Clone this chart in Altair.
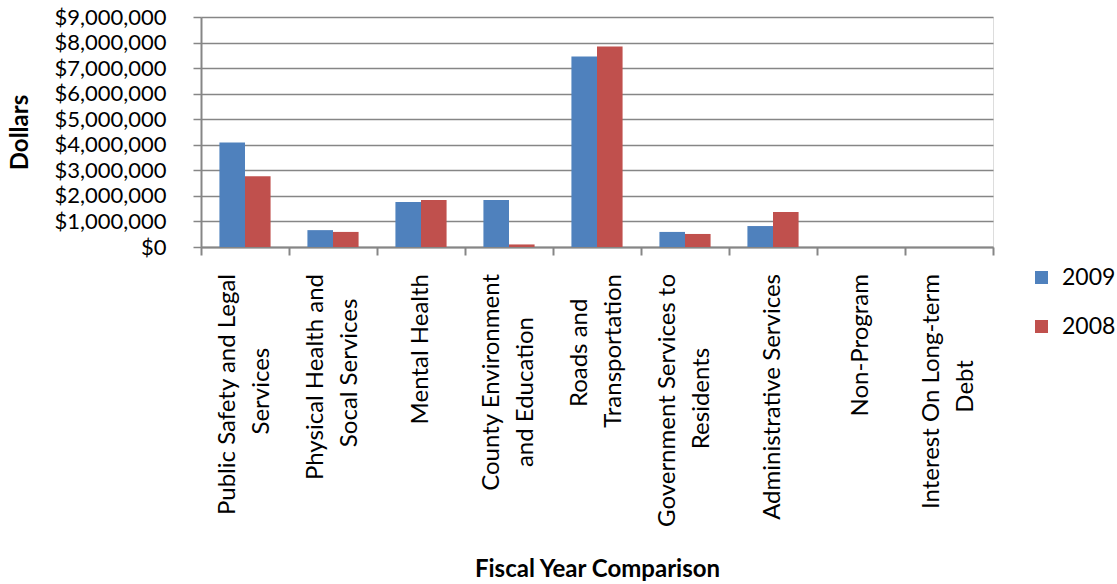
import altair as alt
import pandas as pd

# Spending by program area, two fiscal years
categories = [
    "Public Safety and Legal Services",
    "Physical Health and Socal Services",
    "Mental Health",
    "County Environment and Education",
    "Roads and Transportation",
    "Government Services to Residents",
    "Administrative Services",
    "Non-Program",
    "Interest On Long-term Debt",
]


def pad(line, n):
    # trailing no-break spaces keep the shorter line centred under the
    # longer one; the zero-width space stops them being trimmed away
    return line + "\u00a0" * n + "\u200b"


# wrapped category labels (lines separated by "\n")
category_labels = [
    "Public Safety and Legal\n" + pad("Services", 12),
    "Physical Health  and\n" + pad("Socal Services", 4),
    "Mental Health",
    "County Environment\n" + pad("and Education", 7),
    pad("Roads and", 4) + "\nTransportation",
    "Government Services to\n" + pad("Residents", 12),
    "Administrative Services",
    "Non-Program",
    "Interest On Long-term\n" + pad("Debt", 14),
]
years = ["2009", "2008"]
values_2009 = [4090000, 660000, 1760000, 1840000, 7450000, 590000, 820000, 0, 0]
values_2008 = [2770000, 590000, 1840000, 100000, 7850000, 510000, 1370000, 0, 0]
y_ticks = [0, 1000000, 2000000, 3000000, 4000000, 5000000, 6000000, 7000000, 8000000, 9000000]
colors = ["#4F81BD", "#C0504D"]

FONT = "Lato"
GRAY = "#868686"

bars_df = pd.DataFrame(
    {
        "category": categories * 2,
        "year": [years[0]] * len(categories) + [years[1]] * len(categories),
        "value": values_2009 + values_2008,
    }
)
labels_df = pd.DataFrame({"category": categories, "label": category_labels})

x_enc = alt.X(
    "category:N",
    sort=categories,
    scale=alt.Scale(paddingInner=0, paddingOuter=0),
    axis=alt.Axis(
        labels=False,
        tickBand="extent",
        tickSize=8,
        tickColor=GRAY,
        tickWidth=2,
        domainColor=GRAY,
        domainWidth=2,
        title="Fiscal Year Comparison",
        titleFont=FONT,
        titleFontSize=24,
        titleFontWeight="bold",
        titleColor="#000000",
        titleX=396,
        titleY=322,
        titleAlign="center",
        titleBaseline="middle",
    ),
)

bars = (
    alt.Chart(bars_df)
    .mark_bar()
    .encode(
        x=x_enc,
        xOffset=alt.XOffset(
            "year:N", sort=years, scale=alt.Scale(paddingInner=0, paddingOuter=0.72)
        ),
        y=alt.Y(
            "value:Q",
            scale=alt.Scale(domain=[0, 9000000], nice=False),
            axis=alt.Axis(
                values=y_ticks,
                format="$,.0f",
                labelFont=FONT,
                labelFontSize=22,
                labelColor="#000000",
                labelPadding=27,
                tickSize=8,
                tickColor=GRAY,
                tickWidth=1.5,
                domainColor=GRAY,
                domainWidth=2,
                grid=True,
                gridColor=GRAY,
                gridWidth=1.5,
                title="Dollars",
                titleFont=FONT,
                titleFontSize=24,
                titleFontWeight="bold",
                titleColor="#000000",
                titleAngle=270,
                titleX=-181,
                titleY=115,
                titleAlign="center",
                titleBaseline="middle",
            ),
        ),
        color=alt.Color(
            "year:N",
            sort=years,
            scale=alt.Scale(domain=years, range=colors),
            legend=alt.Legend(
                title=None,
                orient="none",
                legendX=829,
                legendY=249,
                symbolType="square",
                symbolSize=169,
                symbolStrokeWidth=0,
                labelFont=FONT,
                labelFontSize=23,
                labelColor="#000000",
                labelOffset=9,
                rowPadding=25,
            ),
        ),
    )
)

# category labels, rotated, ending just below the axis
label_style = dict(
    angle=270,
    align="right",
    baseline="middle",
    font=FONT,
    fontSize=24,
    lineHeight=34,
    lineBreak="\n",
    color="#000000",
)
label_enc = dict(x=alt.X("category:N", sort=categories), y=alt.value(257), text="label:N")

single_labels = (
    alt.Chart(labels_df)
    .transform_filter("indexof(datum.label, '\\n') < 0")
    .mark_text(**label_style)
    .encode(**label_enc)
)
double_labels = (
    alt.Chart(labels_df)
    .transform_filter("indexof(datum.label, '\\n') >= 0")
    .mark_text(dy=-17, **label_style)
    .encode(**label_enc)
)

chart = (
    alt.layer(bars, single_labels, double_labels)
    .properties(
        width=792,
        height=230,
        autosize=alt.AutoSizeParams(type="none"),
        padding={"left": 201, "top": 17, "right": 124, "bottom": 337},
    )
    .configure_view(stroke=None)
    .configure(background="#ffffff")
)

chart.save("out.html", embed_options={"renderer": "svg", "actions": False})
